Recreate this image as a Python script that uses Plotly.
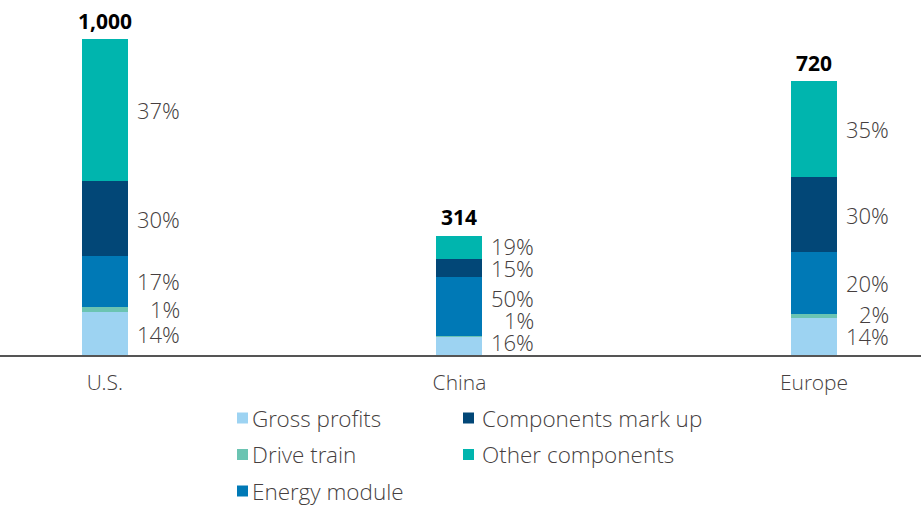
import plotly.graph_objects as go

categories = ["U.S.", "China", "Europe"]
totals_text = ["1,000", "314", "720"]

series_names = ["Gross profits", "Drive train", "Energy module", "Components mark up", "Other components"]
series_colors = ["#9DD3F2", "#6BC4B2", "#0079B6", "#024777", "#00B5AE"]

# segment heights (bottom to top)
gross_profits = [136, 58, 118]
drive_train = [17, 3, 13]
energy_module = [160, 186, 195]
components_markup = [237, 56, 237]
other_components = [449, 74, 304]
values = [gross_profits, drive_train, energy_module, components_markup, other_components]

# share labels (bottom to top), per category
pct_us = [14, 1, 17, 30, 37]
pct_china = [16, 1, 50, 15, 19]
pct_europe = [14, 2, 20, 30, 35]
pct_labels = [pct_us, pct_china, pct_europe]

FONT = "Open Sans Light, Open Sans"
TXT = "#463F3F"
W, H = 921, 507
MT, MB = 0, 152
plot_h = H - MT - MB
y_max = 1123.4
px_per_unit = plot_h / y_max

xs = list(range(len(categories)))
fig = go.Figure()
for name, color, vals in zip(series_names, series_colors, values):
    fig.add_trace(go.Bar(x=xs, y=vals, name=name, marker=dict(color=color, line=dict(width=0)),
                         width=0.13, showlegend=False, hoverinfo="skip"))

annotations = []
for i, cat in enumerate(categories):
    seg = [v[i] for v in values]
    total = sum(seg)
    annotations.append(dict(x=i, y=total, xref="x", yref="y", text="<b>%s</b>" % totals_text[i],
                            showarrow=False, yanchor="middle", yshift=18.5,
                            font=dict(family="Open Sans", size=21, color="#000000")))
    centers = []
    base = 0
    for s in seg:
        centers.append(base + s / 2)
        base += s
    gap = 22 / px_per_unit
    floor = 13 / px_per_unit
    pos = []
    prev = None
    for c in centers:
        p = max(c, floor) if prev is None else max(c, prev + gap)
        pos.append(p)
        prev = p
    for p, pc in zip(pos, pct_labels[i]):
        annotations.append(dict(x=i, y=p, xref="x", yref="y", text="%d%%" % pc, showarrow=False,
                                xanchor="right", yanchor="middle", xshift=77,
                                font=dict(family=FONT, size=22, color=TXT, weight=300)))

# custom legend: two columns
shapes = []
legend_cols = [[0, 1, 2], [3, 4]]
col_x = [237, 463]
col_text_x = [250, 480]
row_y = [418, 454.5, 491]
for cx, tx, idxs in zip(col_x, col_text_x, legend_cols):
    for r, k in enumerate(idxs):
        yc = row_y[r]
        shapes.append(dict(type="rect", xref="paper", yref="paper",
                           x0=cx / W, x1=(cx + 11) / W,
                           y0=1 - (yc + 5.5 - MT) / plot_h, y1=1 - (yc - 5.5 - MT) / plot_h,
                           fillcolor=series_colors[k], line=dict(width=0)))
        annotations.append(dict(x=tx / W, y=1 - (yc - MT) / plot_h, xref="paper", yref="paper",
                                text=series_names[k], showarrow=False, xanchor="left", yanchor="middle",
                                font=dict(family=FONT, size=22.5, color=TXT, weight=300)))

fig.update_layout(
    width=W, height=H,
    margin=dict(l=0, r=0, t=MT, b=MB),
    barmode="stack",
    plot_bgcolor="white", paper_bgcolor="white",
    annotations=annotations, shapes=shapes,
    xaxis=dict(range=[-0.296, 2.302], tickvals=xs, ticktext=categories, showgrid=False,
               zeroline=False, showline=True, linecolor="#555555", linewidth=2,
               ticks="", ticklabelstandoff=8,
               tickfont=dict(family=FONT, size=21, color=TXT, weight=300)),
    yaxis=dict(range=[0, y_max], visible=False, showgrid=False, zeroline=False),
    showlegend=False,
)

fig.write_html("out.html", config={"displayModeBar": False},
               post_script="document.body.style.margin='0';")
